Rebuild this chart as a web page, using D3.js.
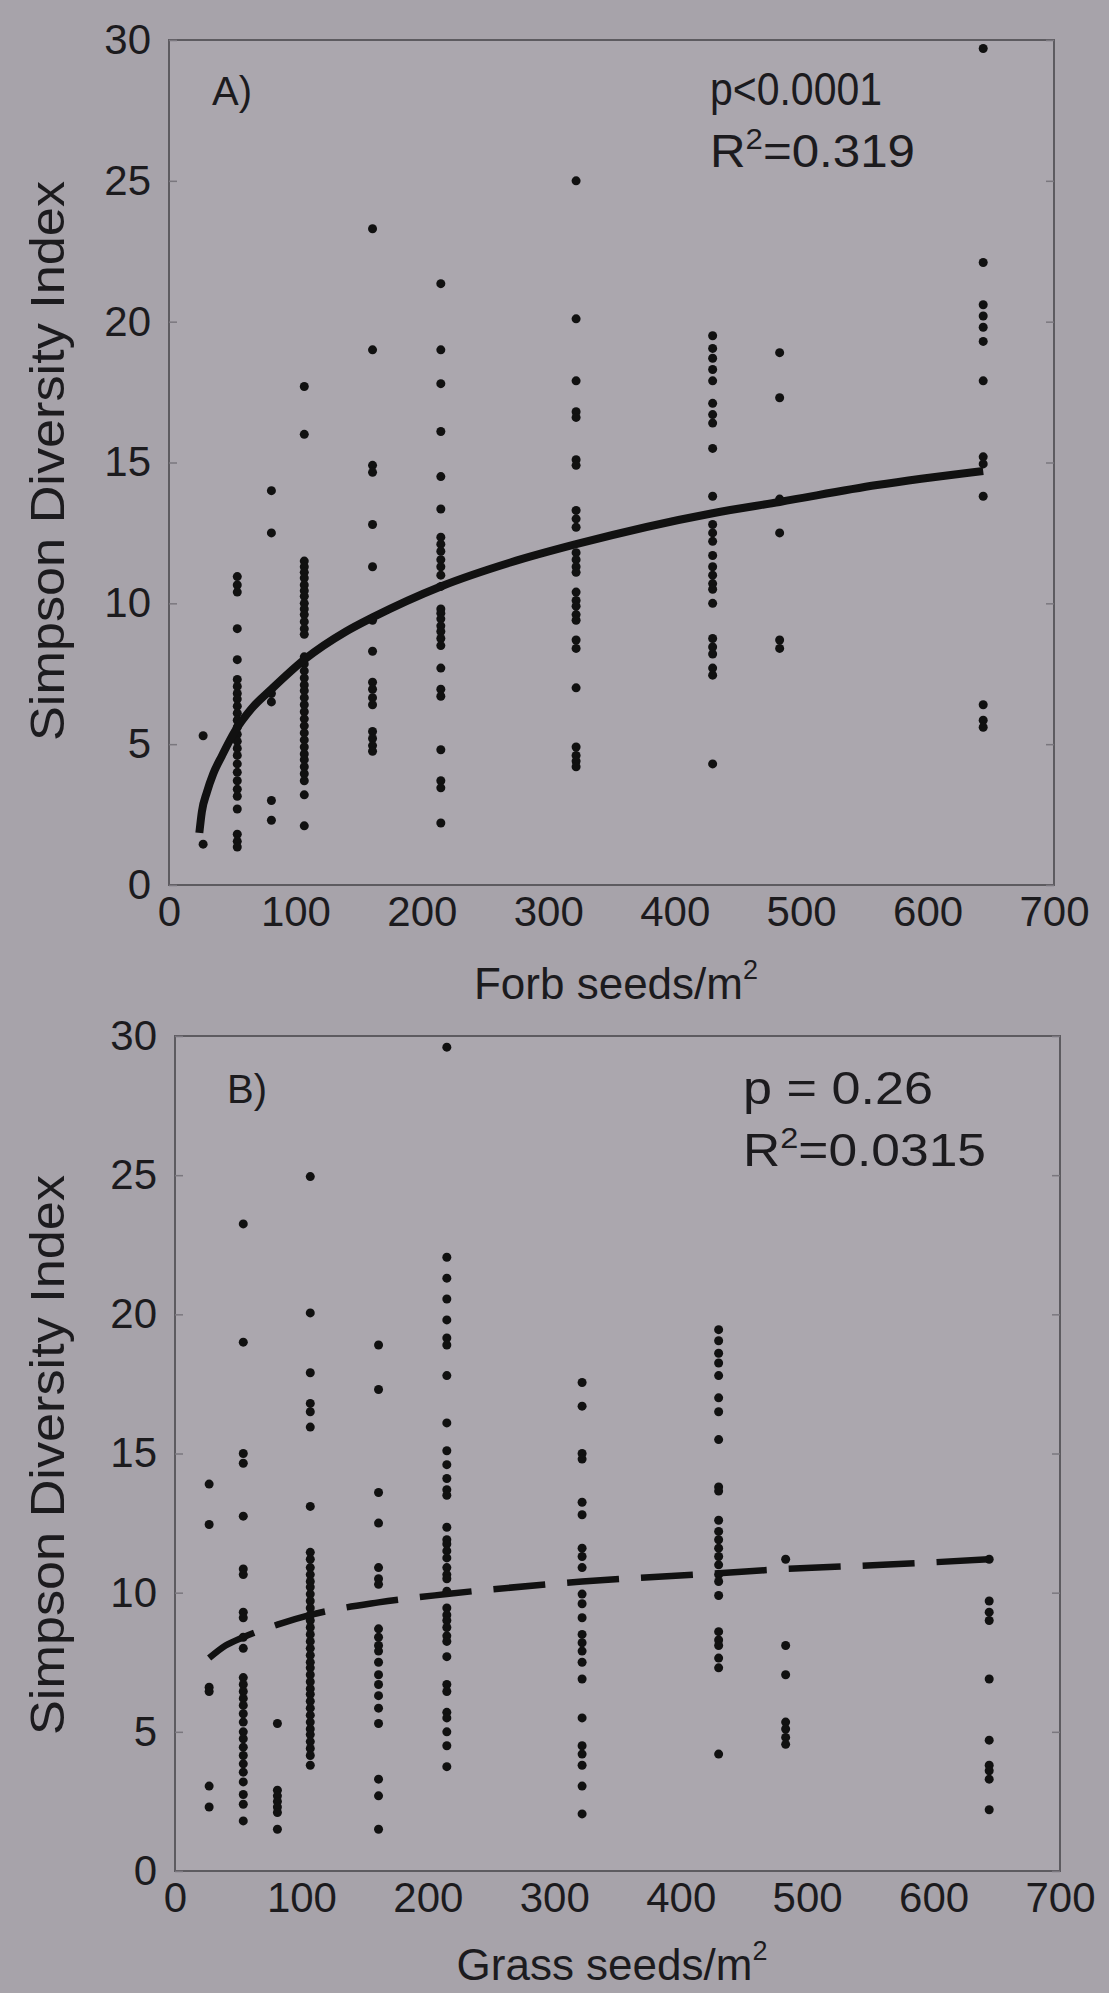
<!DOCTYPE html>
<html>
<head>
<meta charset="utf-8">
<script src="https://cdn.jsdelivr.net/npm/d3@7"></script>
<style>
  body { margin: 0; background: #a7a3aa; }
  svg { display: block; font-family: "Liberation Sans", Arial, Helvetica, sans-serif; }
</style>
</head>
<body>
<svg width="1109" height="1993"></svg>
<script>
// tick values
const xTicks = [0, 100, 200, 300, 400, 500, 600, 700];
const yTicks = [0, 5, 10, 15, 20, 25, 30];

// seed density columns (seeds/m2), shared by both panels
const seedCols = [27, 54, 81, 107, 161, 215, 322, 430, 483, 644];

// Simpson diversity values, one list per column -- panel A (forb seeds)
const forbDiv = [
    [5.3, 1.45],
    [10.95, 10.65, 10.4, 9.1, 8.0, 7.3, 7.05, 6.8, 6.6, 6.35, 6.1, 5.85, 5.6, 5.35, 5.1, 4.85, 4.6, 4.3, 4.0, 3.7, 3.4, 3.15, 2.7, 1.8, 1.55, 1.35],
    [14.0, 12.5, 6.8, 6.5, 3.0, 2.3],
    [17.7, 16.0, 11.5, 11.3, 11.1, 10.9, 10.65, 10.45, 10.25, 10.0, 9.8, 9.6, 9.35, 9.1, 8.9, 8.1, 7.85, 7.6, 7.35, 7.1, 6.9, 6.65, 6.4, 6.15, 5.9, 5.65, 5.4, 5.15, 4.9, 4.65, 4.45, 4.2, 3.95, 3.7, 3.2, 2.1],
    [23.3, 19.0, 14.9, 14.65, 12.8, 11.3, 9.4, 8.3, 7.2, 6.95, 6.65, 6.4, 5.45, 5.2, 4.95, 4.75],
    [21.35, 19.0, 17.8, 16.1, 14.5, 13.35, 12.35, 12.1, 11.85, 11.55, 11.3, 11.0, 10.6, 9.8, 9.65, 9.45, 9.2, 9.0, 8.75, 8.5, 7.7, 6.95, 6.7, 4.8, 3.7, 3.45, 2.2],
    [25.0, 20.1, 17.9, 16.8, 16.6, 15.1, 14.9, 13.3, 13.0, 12.7, 11.8, 11.55, 11.3, 11.1, 10.4, 10.1, 9.9, 9.6, 9.4, 8.7, 8.4, 7.0, 4.9, 4.6, 4.4, 4.2],
    [19.5, 19.05, 18.7, 18.3, 17.9, 17.1, 16.7, 16.4, 15.5, 13.8, 12.8, 12.5, 12.2, 11.7, 11.3, 11.0, 10.7, 10.5, 10.0, 8.75, 8.45, 8.2, 7.7, 7.45, 4.3],
    [18.9, 17.3, 13.7, 12.5, 8.7, 8.4],
    [29.7, 22.1, 20.6, 20.2, 19.8, 19.3, 17.9, 15.2, 14.95, 13.8, 6.4, 5.85, 5.6]
];

// panel B (grass seeds)
const grassDiv = [
    [13.9, 12.45, 6.6, 6.45, 3.05, 2.3],
    [23.25, 19.0, 15.0, 14.65, 12.75, 10.85, 10.65, 9.3, 9.1, 8.4, 8.0, 6.95, 6.7, 6.45, 6.2, 5.95, 5.65, 5.35, 5.0, 4.75, 4.45, 4.15, 3.85, 3.55, 3.2, 2.75, 2.4, 1.8],
    [5.3, 2.9, 2.7, 2.5, 2.3, 2.1, 1.5],
    [24.95, 20.05, 17.9, 16.8, 16.5, 15.95, 13.1, 11.45, 11.2, 10.9, 10.65, 10.4, 10.2, 9.95, 9.7, 9.45, 9.2, 9.0, 8.75, 8.5, 8.25, 8.0, 7.75, 7.5, 7.3, 7.05, 6.8, 6.55, 6.35, 6.1, 5.85, 5.6, 5.35, 5.1, 4.9, 4.65, 4.4, 4.15, 3.8],
    [18.9, 17.3, 13.6, 12.5, 10.9, 10.5, 10.3, 8.7, 8.4, 8.1, 7.9, 7.5, 7.05, 6.7, 6.3, 5.85, 5.3, 3.3, 2.7, 1.5],
    [29.6, 22.05, 21.3, 20.55, 19.8, 19.15, 18.9, 17.8, 16.1, 15.1, 14.6, 14.1, 13.7, 13.5, 12.35, 11.9, 11.75, 11.5, 11.25, 10.9, 10.65, 10.5, 10.05, 9.45, 9.2, 9.0, 8.75, 8.45, 8.25, 7.7, 6.7, 6.45, 5.7, 5.5, 5.0, 4.5, 3.75],
    [17.55, 16.7, 15.0, 14.8, 13.25, 12.8, 11.6, 11.3, 10.9, 9.95, 9.6, 9.1, 8.5, 8.2, 7.9, 7.5, 6.9, 5.5, 4.5, 4.2, 3.8, 3.05, 2.05],
    [19.45, 19.05, 18.6, 18.25, 17.8, 17.0, 16.5, 15.5, 13.8, 13.65, 12.6, 12.2, 11.9, 11.6, 11.3, 11.0, 10.65, 10.4, 9.9, 8.6, 8.3, 8.1, 7.65, 7.3, 4.2],
    [11.2, 8.1, 7.05, 5.35, 5.1, 4.8, 4.55],
    [11.2, 9.7, 9.3, 9.0, 6.9, 4.7, 3.8, 3.6, 3.3, 2.2]
];

// fitted curves
const forbFitX = [24, 26, 30, 35, 42, 52, 65, 81, 107, 140, 161, 215, 270, 322, 430, 483, 560, 644];
const forbFitY = [1.85, 2.6, 3.3, 3.95, 4.6, 5.45, 6.25, 6.95, 8.0, 9.0, 9.5, 10.6, 11.45, 12.1, 13.2, 13.6, 14.2, 14.7];
const grassFitX = [27, 40, 54, 81, 107, 161, 215, 322, 430, 483, 560, 644];
const grassFitY = [7.65, 8.1, 8.4, 8.85, 9.2, 9.65, 9.95, 10.4, 10.7, 10.85, 11.0, 11.2];

const svg = d3.select("svg");
const ink = "#1c1b1e";

function drawPanel(p) {
    const x = d3.scaleLinear().domain([0, 700]).range([p.left, p.right]);
    const y = d3.scaleLinear().domain([0, 30]).range([p.bottom, p.top]);
    const g = svg.append("g");

    g.append("rect")
        .attr("x", p.left).attr("y", p.top)
        .attr("width", p.right - p.left).attr("height", p.bottom - p.top)
        .attr("fill", "#aba7ae")
        .attr("stroke", "#5d5b60")
        .attr("stroke-width", 2);

    // y axis: labels on left, short inward ticks on both sides
    g.append("g")
        .attr("transform", `translate(${p.left},0)`)
        .call(d3.axisLeft(y).tickValues(yTicks).tickSize(-8).tickPadding(18));
    g.append("g")
        .attr("transform", `translate(${p.right},0)`)
        .call(d3.axisRight(y).tickValues(yTicks).tickSize(-8).tickFormat(""));

    g.append("g")
        .attr("transform", `translate(0,${p.bottom})`)
        .call(d3.axisBottom(x).tickValues(xTicks).tickSize(0).tickPadding(11));

    g.selectAll(".domain").remove();
    g.selectAll(".tick line").attr("stroke", "#7a777e").attr("stroke-width", 1.5);
    g.selectAll(".tick text")
        .attr("fill", ink)
        .style("font-size", "42px")
        .style("font-family", "'Liberation Sans', Arial, Helvetica, sans-serif");

    // points
    const pts = [];
    seedCols.forEach((c, i) => p.values[i].forEach(v => pts.push({x: c, y: v})));
    g.append("g").selectAll("circle")
        .data(pts)
        .enter().append("circle")
        .attr("cx", d => x(d.x))
        .attr("cy", d => y(d.y))
        .attr("r", 4.5)
        .attr("fill", "#111");

    // fitted curve
    const line = d3.line()
        .x(d => x(d[0]))
        .y(d => y(d[1]))
        .curve(d3.curveMonotoneX);
    g.append("path")
        .datum(p.fitX.map((v, i) => [v, p.fitY[i]]))
        .attr("d", line)
        .attr("fill", "none")
        .attr("stroke", "#111")
        .attr("stroke-width", p.dashed ? 6.5 : 8)
        .attr("stroke-dasharray", p.dashed ? "52,22" : null);

    // panel letter and stats
    const txt = (tx, ty, size) => g.append("text")
        .attr("x", tx).attr("y", ty)
        .attr("fill", ink)
        .style("font-size", size + "px");
    txt(p.left + p.letterDx, p.top + p.letterDy, 40).text(p.letter);
    txt(p.left + p.statDx, p.top + p.statDy, 46)
        .attr("textLength", p.pLen).attr("lengthAdjust", "spacingAndGlyphs")
        .text(p.pText);
    const r2 = txt(p.left + p.statDx, p.top + p.statDy + p.statGap, 46)
        .attr("textLength", p.r2Len).attr("lengthAdjust", "spacingAndGlyphs");
    r2.append("tspan").text("R");
    r2.append("tspan").attr("dy", -18).style("font-size", "29px").text("2");
    r2.append("tspan").attr("dy", 18).text(p.r2Text);

    // axis titles
    g.append("text")
        .attr("transform", `translate(64,${p.yTitleY}) rotate(-90)`)
        .attr("text-anchor", "middle")
        .attr("fill", ink)
        .attr("textLength", 560).attr("lengthAdjust", "spacingAndGlyphs")
        .style("font-size", "49px")
        .text("Simpson Diversity Index");

    const xt = g.append("text")
        .attr("x", p.xTitleX).attr("y", p.xTitleY)
        .attr("text-anchor", "middle")
        .attr("fill", ink)
        .style("font-size", "44px");
    xt.append("tspan").text(p.xTitle);
    xt.append("tspan").attr("dy", -20).style("font-size", "27px").text("2");
}

drawPanel({
    left: 169, right: 1054, top: 40, bottom: 885,
    values: forbDiv, fitX: forbFitX, fitY: forbFitY, dashed: false,
    letter: "A)", letterDx: 43, letterDy: 65,
    pText: "p<0.0001", r2Text: "=0.319", statDx: 541, statDy: 65, statGap: 62,
    pLen: 172, r2Len: 205,
    yTitleY: 461, xTitle: "Forb seeds/m", xTitleX: 616, xTitleY: 999
});

drawPanel({
    left: 175, right: 1060, top: 1036, bottom: 1871,
    values: grassDiv, fitX: grassFitX, fitY: grassFitY, dashed: true,
    letter: "B)", letterDx: 52, letterDy: 67,
    pText: "p = 0.26", r2Text: "=0.0315", statDx: 568, statDy: 68, statGap: 62,
    pLen: 190, r2Len: 243,
    yTitleY: 1455, xTitle: "Grass seeds/m", xTitleX: 612, xTitleY: 1980
});
</script>
</body>
</html>
